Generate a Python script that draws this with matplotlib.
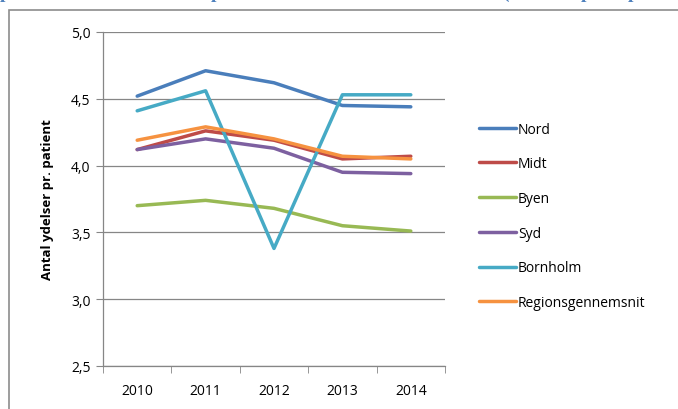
import matplotlib
matplotlib.use("Agg")
import matplotlib.pyplot as plt
from matplotlib.patches import Rectangle

years = ["2010", "2011", "2012", "2013", "2014"]
nord = [4.52, 4.71, 4.62, 4.45, 4.44]
midt = [4.12, 4.26, 4.19, 4.05, 4.07]
byen = [3.70, 3.74, 3.68, 3.55, 3.51]
syd = [4.12, 4.20, 4.13, 3.95, 3.94]
bornholm = [4.41, 4.56, 3.38, 4.53, 4.53]
region = [4.19, 4.29, 4.20, 4.07, 4.05]

series = [
    ("Nord", nord, "#4A7EBB"),
    ("Midt", midt, "#BE4B48"),
    ("Byen", byen, "#98B954"),
    ("Syd", syd, "#7D60A0"),
    ("Bornholm", bornholm, "#46AAC5"),
    ("Regionsgennemsnit", region, "#F69240"),
]

plt.rcParams['font.family'] = ['Open Sans', 'DejaVu Sans']

fig = plt.figure(figsize=(6.78, 4.10), dpi=100)
ax = fig.add_axes([103/678, 1 - 367/410, 342/678, 334/410])

x = list(range(len(years)))
for name, vals, col in series:
    ax.plot(x, vals, color=col, lw=2.5, label=name, solid_capstyle='round')

ax.set_xlim(-0.5, len(years) - 0.5)
ax.set_ylim(2.5, 5.0)
ax.set_yticks([2.5, 3.0, 3.5, 4.0, 4.5, 5.0])
ax.set_yticklabels(["2,5", "3,0", "3,5", "4,0", "4,5", "5,0"])
ax.set_xticks(x)
ax.set_xticklabels(years)
ax.set_xticks([i - 0.5 for i in range(len(years) + 1)], minor=True)
ax.tick_params(axis='x', which='major', length=0, pad=12, labelsize=10)
ax.tick_params(axis='x', which='minor', length=5, color='#868686', direction='out')
ax.tick_params(axis='y', length=5, color='#868686', direction='out', labelsize=10, pad=4)
ax.grid(axis='y', color='#868686', lw=0.9)
ax.set_axisbelow(True)
for s in ['top', 'right']:
    ax.spines[s].set_visible(False)
for s in ['left', 'bottom']:
    ax.spines[s].set_color('#868686')
    ax.spines[s].set_linewidth(0.9)

ax.set_ylabel("Antal ydelser pr. patient", fontsize=9.5, fontweight='bold', labelpad=12)

leg = fig.legend(loc='upper left', bbox_to_anchor=(466/678, 1 - 110/410), frameon=False,
                 fontsize=10, handlelength=2.7, handletextpad=0.15, labelspacing=1.42)

# outer chart frame
fig.patches.append(Rectangle((9/678, -0.1), 1.2, 1 - 11/410 + 0.1, transform=fig.transFigure,
                             fill=False, edgecolor='#8c8c8c', lw=1.2))

# cut-off title descenders
for px, ch in [(0, "p"), (211, "p"), (502, "("), (581, "p"), (628, "p")]:
    fig.text(px/678, 1 + 2/410, ch, color='#4F81BD', fontsize=14, fontweight='bold',
             family='Liberation Serif', va='baseline')

fig.savefig("out.png", dpi=100)
